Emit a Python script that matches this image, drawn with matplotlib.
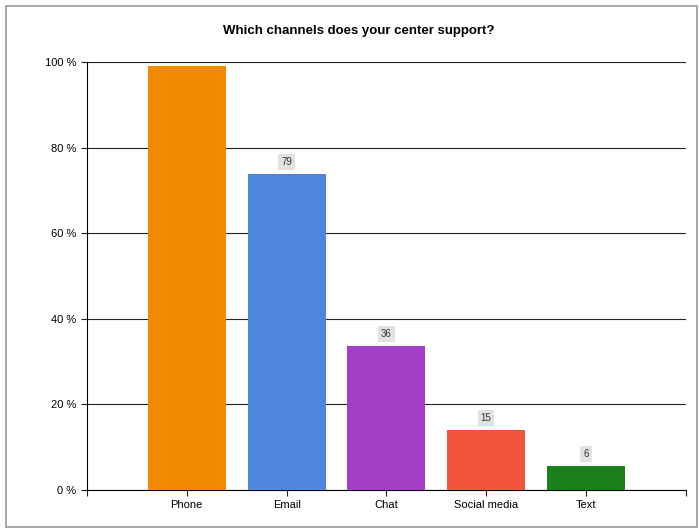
import matplotlib.pyplot as plt
from matplotlib.patches import Rectangle

plt.rcParams['font.family'] = ['Liberation Sans', 'DejaVu Sans']

channels = ["Phone", "Email", "Chat", "Social media", "Text"]
counts = [106, 79, 36, 15, 6]
total_respondents = 107
colors = ["#F28A00", "#4F86DD", "#A53EC7", "#F2553A", "#1B7F1B"]

percents = [c / total_respondents * 100 for c in counts]

fig = plt.figure(figsize=(6.99, 5.31), dpi=100)
ax = fig.add_axes([0.1245, 0.0772, 0.8565, 0.806])

x = list(range(len(channels)))
bars = ax.bar(x, percents, width=0.78, color=colors, zorder=3)

# count labels in small grey boxes; Phone's is hidden at the top
for xi, p, c in zip(x, percents, counts):
    if p > 95:
        continue
    ax.text(xi, p + 1.6, str(c), ha="center", va="bottom", fontsize=7,
            color="#333333", zorder=4,
            bbox=dict(boxstyle="square,pad=0.3", fc="#E2E2E2", ec="none"))

ax.set_xlim(-1, 5)
ax.set_ylim(0, 100)
ax.set_yticks([0, 20, 40, 60, 80, 100])
ax.set_yticklabels([f"{v} %" for v in [0, 20, 40, 60, 80, 100]])
ax.set_xticks([-1] + x + [5])
ax.set_xticklabels([""] + channels + [""])
ax.tick_params(axis="both", labelsize=8, length=4, width=0.8, color="#222222")
ax.tick_params(axis="x", pad=3)
ax.yaxis.grid(True, color="#222222", linewidth=0.8, zorder=1)

for side in ["top", "right"]:
    ax.spines[side].set_visible(False)
ax.spines["left"].set_linewidth(0.8)
ax.spines["bottom"].set_linewidth(0.8)

fig.text(0.513, 0.9415, "Which channels does your center support?",
         ha="center", va="center", fontsize=9.5, fontweight="bold")

fig.patches.append(Rectangle((6 / 699, 4 / 531), 691 / 699, 521 / 531,
                             transform=fig.transFigure, fill=False,
                             edgecolor="#9A9A9A", linewidth=1.2))

fig.savefig("out.png", dpi=100)
